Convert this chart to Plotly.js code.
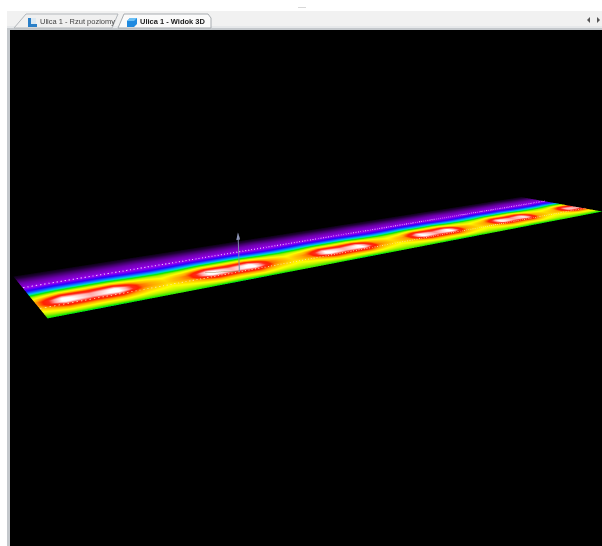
<!DOCTYPE html>
<html><head><meta charset="utf-8">
<script src="https://cdn.plot.ly/plotly-3.0.1.min.js"></script>
<style>html,body{margin:0;padding:0;background:#fff;overflow:hidden}#c{width:602px;height:546px}</style>
</head><body><div id="c"></div>
<script>
// Along-road stations (m) and across-road rows (m)
const stations = [0,5,10,15,20,25,30,35,40,45,50,55,60,65,70,75,80,85,90,95,100,105,110,115,120,125,130,135,140,145,150,155,160];
const rowsAcross = [0,0.6,1.2,1.8,2.4,3.12,3.84,4.56,5.28,6,6.6,7.2,8.04,9.6,10.8,12];
// Illuminance level per row
const r00=[60,58,57,58,60,62,60,58,57,58,60,62,61,59,57,58,61,62,60,59,58,58,60,62,60,59,58,59,60,62,60,59,58];
const r01=[65,68,67,68,66,66,66,68,67,68,66,66,66,68,67,67,66,66,66,67,67,67,66,66,66,67,66,67,66,66,66,66,66];
const r02=[71,76,75,76,72,70,72,76,75,76,72,70,72,76,75,75,72,70,72,75,74,75,72,70,72,75,74,75,72,70,71,73,73];
const r03=[75,82,81,82,76,73,76,82,81,82,76,73,76,82,81,82,76,73,76,81,81,81,76,73,76,81,80,81,75,73,75,80,79];
const r04=[78,88,87,88,79,75,79,88,87,88,79,75,79,88,87,88,79,75,79,88,87,87,78,75,78,87,86,87,78,75,77,86,85];
const r05=[80,100,94,100,82,77,82,100,94,100,82,77,82,100,94,99,82,77,81,99,93,99,81,77,81,98,93,97,80,77,80,95,93];
const r06=[80,99,93,99,82,76,82,99,93,99,82,76,82,98,93,98,81,76,81,98,92,98,81,76,81,97,92,96,80,76,79,94,92];
const r07=[76,88,86,88,78,73,78,88,86,88,78,73,78,88,86,88,78,73,77,88,86,87,77,73,77,87,85,87,77,73,76,86,85];
const r08=[68,76,75,76,70,67,70,76,75,76,70,67,70,76,75,76,70,67,69,76,75,75,69,67,69,75,74,75,69,67,68,74,74];
const r09=[56,61,61,61,57,55,57,61,61,61,57,55,57,61,61,61,57,55,57,61,60,61,56,55,56,60,60,60,56,55,56,60,59];
const r10=[47,50,50,50,48,47,48,50,50,50,48,47,48,50,50,50,48,47,48,50,49,50,48,47,48,49,49,49,47,47,47,49,48];
const r11=[41,43,43,43,41,40,41,43,43,43,41,40,41,43,43,43,41,40,41,43,43,43,41,40,41,43,42,43,41,40,40,42,42];
const r12=[34,35,35,35,34,34,34,35,35,35,34,34,34,35,35,35,34,34,34,35,35,35,34,34,34,35,35,35,34,34,34,35,35];
const r13=[26,26,26,26,26,27,26,26,26,26,26,27,26,26,26,26,26,27,26,26,26,26,26,27,26,26,26,26,26,27,26,26,26];
const r14=[16,16,16,16,16,17,16,16,16,16,16,17,16,16,16,16,16,17,16,16,16,16,16,17,16,16,16,16,16,17,16,16,16];
const r15=[4,4,4,4,4,5,4,4,4,4,4,5,4,4,4,4,4,5,4,4,4,4,4,5,4,4,4,4,4,5,4,4,4];
const levels=[r00,r01,r02,r03,r04,r05,r06,r07,r08,r09,r10,r11,r12,r13,r14,r15];
const flat = levels.map(r=>r.map(()=>0));
// Lane lines and the view marker
const laneFarY = 8.04, laneNearY = 2.2;
const laneXs = [0,160];
const markerX = 40.5, markerY = 2.4, markerZs = [0,0.37];
const headXs = [40.05,40.95,40.5], headYs = [2.4,2.4,2.4], headZs = [0.35,0.35,0.43];
const gizmoXs = [40.5,34], gizmoYs = [2.4,3.6];

const colors = [[0,'#000000'],[0.12,'#22003a'],[0.25,'#6a00a8'],[0.34,'#9a00ee'],[0.41,'#2a00ff'],[0.5,'#00a8ff'],[0.55,'#00e0b0'],[0.6,'#00e800'],[0.68,'#a8f000'],[0.74,'#ffff00'],[0.8,'#ffa800'],[0.85,'#ff2000'],[0.89,'#ff2818'],[0.93,'#ffa0a0'],[0.98,'#ffffff'],[1,'#ffffff']];
const data = [
 {type:'surface',x:stations,y:rowsAcross,z:flat,surfacecolor:levels,cmin:0,cmax:100,colorscale:colors,showscale:false,hoverinfo:'skip',
  lighting:{ambient:1,diffuse:0,specular:0,fresnel:0,roughness:1},contours:{x:{show:false},y:{show:false},z:{show:false}}},
 {type:'scatter3d',mode:'lines',x:laneXs,y:[laneFarY,laneFarY],z:[0.01,0.01],line:{color:'#e8c4ff',width:2,dash:'dot'},hoverinfo:'skip'},
 {type:'scatter3d',mode:'lines',x:laneXs,y:[laneNearY,laneNearY],z:[0.01,0.01],line:{color:'#ffe8b0',width:1.5,dash:'dot'},hoverinfo:'skip'},
 {type:'scatter3d',mode:'lines',x:gizmoXs,y:gizmoYs,z:[0.01,0.01],line:{color:'#a08a60',width:1},hoverinfo:'skip'},
 {type:'scatter3d',mode:'lines',x:[markerX,markerX],y:[markerY,markerY],z:markerZs,line:{color:'#7f86a8',width:2},hoverinfo:'skip'},
 {type:'mesh3d',x:headXs,y:headYs,z:headZs,i:[0],j:[1],k:[2],color:'#8f96b8',flatshading:true,lighting:{ambient:1,diffuse:0,specular:0,fresnel:0},hoverinfo:'skip'}
];
const ax = r => ({range:r,autorange:false,showgrid:false,zeroline:false,showline:false,showticklabels:false,ticks:'',showbackground:false,showspikes:false,title:{text:''}});
const W=602,H=546;
const X=p=>p/W, Y=p=>1-p/H;
const path=pts=>'M'+pts.map(p=>X(p[0])+','+Y(p[1])).join('L')+'Z';
const rect=(x0,y0,x1,y1,fill)=>({type:'rect',xref:'paper',yref:'paper',x0:X(x0),x1:X(x1),y0:Y(y1),y1:Y(y0),fillcolor:fill,line:{width:0},layer:'above'});
const poly=(pts,fill,lc)=>({type:'path',xref:'paper',yref:'paper',path:path(pts),fillcolor:fill,line:{color:lc||fill,width:lc?1:0},layer:'above'});
const shapes=[
 rect(0,0,602,11,'#ffffff'),
 rect(0,0,7,546,'#ffffff'),
 rect(7,11,602,28,'#f1f1f1'),
 rect(7,26,602,28,'#e6e8ea'),
 rect(7,28,602,30,'#c4c8cc'),
 rect(7,28,10,546,'#c4c8cc'),
 rect(298,7,306,8,'#d8d8d8'),
 poly([[14,28],[26,14],[118,14],[112,28]],'#f0f0f0','#b4b8bc'),
 poly([[118,28],[124,14],[208,14],[211,18],[211,28]],'#fafafa','#a8acb0'),
 rect(28,18,31,27,'#2a7fc8'), rect(28,24,37,27,'#2a7fc8'), rect(31,18,36,24,'#dbe8f2'),
 poly([[127,21],[130,18],[137,18],[137,24],[134,27],[127,27]],'#1f8ae0'),
 poly([[130,18],[137,18],[134,21],[127,21]],'#6cc0f5'),
 poly([[587,20],[590,17],[590,23]],'#555'),
 poly([[597,17],[600,20],[597,23]],'#555')
];
const annotations=[
 {text:'Ulica 1 - Rzut poziomy',xref:'paper',yref:'paper',x:X(38),y:Y(21.5),xanchor:'left',yanchor:'middle',showarrow:false,font:{family:'"Liberation Sans", sans-serif',size:7.5,color:'#444'}},
 {text:'<b>Ulica 1 - Widok 3D</b>',xref:'paper',yref:'paper',x:X(138),y:Y(21.5),xanchor:'left',yanchor:'middle',showarrow:false,font:{family:'"Liberation Sans", sans-serif',size:7.5,color:'#222'}}
];
const layout={width:W,height:H,margin:{l:0,r:0,t:0,b:0,pad:0},paper_bgcolor:'#000',showlegend:false,shapes,annotations,
 scene:{domain:{x:[0,1],y:[0,1]},bgcolor:'#000',xaxis:ax([0,160]),yaxis:ax([0,12]),zaxis:ax([-1,1]),
  aspectmode:'manual',aspectratio:{x:2,y:0.375,z:0.5},
  camera:{eye:{x:-1.2687,y:-1.6016,z:0.499},center:{x:-0.2257,y:0.0004,z:-0.0768},up:{x:0.1663,y:0.2411,z:0.9566},projection:{type:'perspective'}}}};
Plotly.newPlot('c',data,layout,{displayModeBar:false});
</script></body></html>
